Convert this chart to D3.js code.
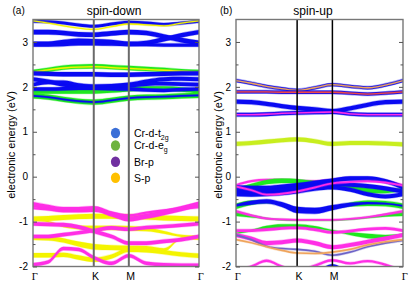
<!DOCTYPE html>
<html><head><meta charset="utf-8">
<script src="https://cdn.jsdelivr.net/npm/d3@7"></script>
<style>
body{margin:0;background:#fff}
text{font-family:Arial,"Liberation Sans",sans-serif;fill:#000}
</style>
</head><body>
<script>
// k-path sample points (Γ-K-M-Γ) and high-symmetry ticks
const kSamples = [0, 0.25, 0.5, 0.75, 1.0, 1.289, 1.577, 1.866, 2.155, 2.443, 2.732];
const kTickPos = [0, 1.0, 1.577, 2.732];
const kTickLabels = ["Γ", "K", "M", "Γ"];
const energyTicks = [-2, -1, 0, 1, 2, 3];
const energyMinor = [-1.5, -0.5, 0.5, 1.5, 2.5];

const legendNames = ["Cr-d-t", "Cr-d-e", "Br-p", "S-p"];
const legendSubs = ["2g", "g", "", ""];

// [orbital, energy at each k sample (eV), projection weight]
const spinDown = [
  ["t2g", [3.46,3.45,3.42,3.38,3.35,3.40,3.44,3.42,3.39,3.42,3.46], 0.35],
  ["Sp",  [3.47,3.42,3.36,3.31,3.28,3.34,3.40,3.38,3.36,3.42,3.47], 0.04],
  ["t2g", [3.22,3.22,3.20,3.17,3.16,3.19,3.22,3.20,3.12,3.04,2.98], 0.65],
  ["t2g", [2.96,2.96,3.00,3.03,3.02,3.00,2.96,2.98,3.06,3.15,3.22], 0.6],
  ["t2g", [2.93,2.93,2.94,2.96,2.96,2.95,2.94,2.94,2.93,2.93,2.93], 0.4],
  ["eg",  [2.33,2.38,2.43,2.45,2.46,2.44,2.42,2.40,2.38,2.35,2.33], 0.6],
  ["Sp",  [2.33,2.38,2.42,2.44,2.45,2.43,2.41,2.39,2.37,2.35,2.33], 0.04],
  ["t2g", [2.30,2.29,2.28,2.28,2.28,2.27,2.27,2.28,2.29,2.30,2.30], 0.6],
  ["eg",  [1.90,1.90,1.90,1.90,1.90,1.92,1.95,1.96,1.96,1.94,1.90], 0.65],
  ["t2g", [2.17,2.12,2.05,2.02,2.01,2.02,2.05,2.12,2.17,2.18,2.17], 0.55],
  ["t2g", [2.05,2.10,2.10,2.04,2.00,2.00,2.02,2.06,2.07,2.06,2.05], 0.5],
  ["t2g", [1.95,1.95,1.96,1.97,1.97,1.96,1.95,1.93,1.92,1.94,1.95], 0.45],
  ["eg",  [1.80,1.77,1.72,1.68,1.66,1.70,1.75,1.77,1.78,1.80,1.81], 0.75],
  ["t2g", [1.80,1.77,1.72,1.68,1.66,1.70,1.75,1.77,1.78,1.80,1.81], 0.12],

  ["Sp",  [-0.94,-0.93,-0.91,-0.89,-0.88,-0.88,-0.89,-0.90,-0.92,-0.93,-0.94], 0.7],
  ["Brp", [-0.62,-0.68,-0.73,-0.73,-0.71,-0.83,-0.94,-0.88,-0.80,-0.71,-0.61], 0.75],
  ["Brp", [-0.70,-0.73,-0.77,-0.77,-0.76,-0.80,-0.86,-0.80,-0.75,-0.71,-0.68], 0.2],
  ["Sp",  [-0.95,-1.00,-1.10,-1.13,-1.14,-1.14,-1.15,-1.17,-1.24,-1.32,-1.36],
          [0.05,0.05,0.2,0.5,0.6,0.6,0.7,0.5,0.3,0.2,0.5]],
  ["Sp",  [-1.36,-1.37,-1.42,-1.50,-1.56,-1.58,-1.59,-1.59,-1.63,-1.37,-1.36],
          [0.6,0.6,0.6,0.7,0.8,0.7,0.7,0.6,0.4,0.05,0.6]],
  ["Brp", [-1.05,-1.06,-1.07,-1.12,-1.22,-1.33,-1.48,-1.48,-1.44,-1.40,-1.33], 0.5],
  ["Brp", [-1.33,-1.33,-1.29,-1.25,-1.20,-1.14,-1.17,-1.13,-1.11,-1.08,-1.05], 0.45],
  ["Sp",  [-1.75,-1.75,-1.74,-1.80,-1.85,-1.78,-1.63,-1.64,-1.68,-1.73,-1.76], 0.6],
  ["Brp", [-1.96,-1.90,-1.60,-1.62,-1.80,-1.93,-1.76,-1.93,-1.96,-1.97,-1.97], 0.45]
];

const spinUp = [
  ["t2g",  [2.14,2.08,2.01,1.96,1.92,1.98,2.05,2.01,1.98,2.04,2.14], 0.4],
  ["mixO", [2.14,2.08,2.01,1.96,1.92,1.98,2.05,2.01,1.98,2.04,2.14], 0.04],
  ["t2g",  [1.89,1.89,1.89,1.88,1.88,1.88,1.88,1.86,1.84,1.86,1.89], 0.4],
  ["mixR", [1.89,1.89,1.89,1.88,1.88,1.88,1.88,1.86,1.84,1.86,1.89], 0.03],
  ["t2g",  [1.67,1.66,1.62,1.57,1.53,1.50,1.46,1.52,1.60,1.66,1.67], 0.6],
  ["t2g",  [1.38,1.38,1.39,1.41,1.42,1.43,1.44,1.40,1.38,1.38,1.38], 0.5],
  ["Brp",  [1.38,1.38,1.39,1.41,1.42,1.43,1.44,1.40,1.38,1.38,1.38], 0.04],
  ["SpEg", [0.73,0.75,0.78,0.81,0.83,0.79,0.73,0.75,0.75,0.74,0.72], 0.55],

  ["Brp", [-0.19,-0.10,-0.07,-0.07,-0.09,-0.10,-0.07,-0.03,-0.03,-0.09,-0.19], 0.2],
  ["eg",  [-0.28,-0.20,-0.12,-0.09,-0.10,-0.14,-0.18,-0.24,-0.31,-0.32,-0.28],
          [0.3,0.5,0.6,0.6,0.6,0.5,0.5,0.7,0.8,0.6,0.3]],
  ["t2g", [-0.24,-0.25,-0.25,-0.22,-0.19,-0.14,-0.09,-0.04,-0.04,-0.10,-0.24], 0.6],
  ["t2g", [-0.33,-0.34,-0.33,-0.30,-0.25,-0.20,-0.16,-0.18,-0.21,-0.26,-0.33], 0.55],
  ["t2g", [-0.39,-0.40,-0.39,-0.37,-0.33,-0.27,-0.24,-0.29,-0.39,-0.44,-0.39], 0.55],
  ["Brp", [-0.22,-0.30,-0.40,-0.38,-0.33,-0.24,-0.15,-0.12,-0.10,-0.13,-0.20], 0.15],

  ["eg",  [-0.82,-0.88,-0.93,-0.96,-0.97,-0.97,-0.97,-0.95,-0.91,-0.86,-0.82],
          [0.7,0.3,0.05,0.02,0.02,0.02,0.02,0.02,0.05,0.3,0.7]],
  ["eg",  [-0.66,-0.58,-0.56,-0.62,-0.74,-0.76,-0.70,-0.62,-0.59,-0.60,-0.66],
          [0.8,0.6,0.3,0.1,0.05,0.05,0.1,0.5,0.8,0.8,0.8]],
  ["t2g", [-0.64,-0.58,-0.55,-0.62,-0.74,-0.76,-0.69,-0.62,-0.59,-0.60,-0.65],
          [0.2,0.5,0.6,0.7,0.95,0.9,0.75,0.5,0.2,0.1,0.1]],
  ["Brp", [-0.77,-0.86,-0.93,-0.95,-0.96,-0.96,-0.96,-0.94,-0.90,-0.84,-0.77],
          [0.3,0.2,0.15,0.12,0.12,0.12,0.12,0.15,0.15,0.2,0.3]],
  ["eg",  [-1.26,-1.20,-1.13,-1.10,-1.10,-1.13,-1.20,-1.27,-1.32,-1.34,-1.28],
          [0.02,0.1,0.4,0.5,0.5,0.3,0.05,0.3,0.6,0.5,0.05]],
  ["Brp", [-1.20,-1.20,-1.18,-1.15,-1.14,-1.18,-1.24,-1.21,-1.17,-1.15,-1.20], 0.3],
  ["Brp", [-1.30,-1.38,-1.48,-1.46,-1.42,-1.48,-1.57,-1.52,-1.45,-1.38,-1.30], 0.55],
  ["mixP",[-1.30,-1.40,-1.55,-1.60,-1.62,-1.66,-1.75,-1.68,-1.56,-1.48,-1.42], 0.1],
  ["mixO",[-1.40,-1.47,-1.56,-1.64,-1.70,-1.71,-1.68,-1.62,-1.52,-1.45,-1.40], 0.1],
  ["t2g", [-2.30,-2.30,-2.30,-2.30,-2.30,-2.15,-1.98,-2.15,-2.30,-2.30,-2.30], 0.3],
  ["Brp", [-2.10,-2.00,-1.87,-2.00,-2.10,-1.98,-1.86,-1.93,-1.88,-1.96,-2.10], 0.25]
];

const width = 415, height = 290;
const bandColor = d3.scaleOrdinal()
  .domain(["t2g","eg","Brp","Sp","SpEg","mixO","mixR","mixP"])
  .range(["#0a0af2","#1ee81e","#ff2ee6","#f4f400","#c8ee1e","#f0a45c","#ee4848","#6e64c8"]);
const legendColor = d3.scaleOrdinal()
  .domain(legendNames)
  .range(["#3b6fd7","#6db33f","#7030a0","#ffc000"]);
const thick = d3.scaleLinear().domain([0, 1]).range([1.1, 6.5]);

const svg = d3.select("body").append("svg")
  .attr("width", width).attr("height", height);

const y = d3.scaleLinear().domain([-2, 3.5]).range([266.5, 19.5]);

const panels = [
  {id: "a", bands: spinDown, x0: 33, x1: 199, title: "spin-down", titleX: 114,
   tagX: 12.5, labelX: 14.5, line: "#6a6a6a", lineW: 2},
  {id: "b", bands: spinUp, x0: 236, x1: 403, title: "spin-up", titleX: 313,
   tagX: 220, labelX: 221.5, line: "#000", lineW: 1.5}
];

panels.forEach(p => {
  const x = d3.scaleLinear().domain([0, kTickPos[3]]).range([p.x0, p.x1]);
  const g = svg.append("g");

  g.append("clipPath").attr("id", "clip-" + p.id)
    .append("rect").attr("x", p.x0).attr("y", y(3.5))
    .attr("width", p.x1 - p.x0).attr("height", y(-2) - y(3.5));

  const bands = g.append("g").attr("clip-path", "url(#clip-" + p.id + ")");
  p.bands.forEach(b => {
    const [orb, en, w] = b;
    const wAt = i => Array.isArray(w) ? w[i] : w;
    const area = d3.area()
      .curve(d3.curveMonotoneX)
      .x((d, i) => x(kSamples[i]))
      .y0((d, i) => y(d) + thick(wAt(i)) / 2)
      .y1((d, i) => y(d) - thick(wAt(i)) / 2);
    bands.append("path")
      .attr("d", area(en))
      .attr("fill", bandColor(orb))
      .attr("stroke", bandColor(orb))
      .attr("stroke-opacity", 0.3)
      .attr("stroke-width", 1.2);
  });

  // high-symmetry lines
  g.selectAll(".kline")
    .data(kTickPos.slice(1, 3))
    .enter().append("line")
    .attr("x1", d => x(d)).attr("x2", d => x(d))
    .attr("y1", y(3.5)).attr("y2", y(-2))
    .attr("stroke", p.line).attr("stroke-width", p.lineW);

  // frame
  g.append("rect")
    .attr("x", p.x0).attr("y", y(3.5))
    .attr("width", p.x1 - p.x0).attr("height", y(-2) - y(3.5))
    .attr("fill", "none").attr("stroke", "#777").attr("stroke-width", 1.4);

  // energy axis, ticks pointing inward
  const yAxis = g.append("g").attr("transform", `translate(${p.x0},0)`)
    .call(d3.axisLeft(y).tickValues(energyTicks).tickSize(-4).tickPadding(5)
      .tickFormat(d => d === 0 ? "0" : d3.format("d")(d).replace("−", "-")));
  yAxis.select(".domain").remove();
  yAxis.selectAll("line").attr("stroke", "#555");
  yAxis.selectAll("text").attr("font-size", 10)
    .style("font-family", "Arial, 'Liberation Sans', sans-serif");

  g.append("g").attr("transform", `translate(${p.x0},0)`)
    .call(d3.axisLeft(y).tickValues(energyMinor).tickSize(-2.5).tickFormat(""))
    .call(s => s.select(".domain").remove())
    .selectAll("line").attr("stroke", "#555");

  g.append("g").attr("transform", `translate(${p.x1},0)`)
    .call(d3.axisRight(y).tickValues(energyTicks).tickSize(-4).tickFormat(""))
    .call(s => s.select(".domain").remove())
    .selectAll("line").attr("stroke", "#555");
  g.append("g").attr("transform", `translate(${p.x1},0)`)
    .call(d3.axisRight(y).tickValues(energyMinor).tickSize(-2.5).tickFormat(""))
    .call(s => s.select(".domain").remove())
    .selectAll("line").attr("stroke", "#555");

  // k labels
  g.selectAll(".klab")
    .data(kTickPos)
    .enter().append("text")
    .attr("x", d => x(d) + 1.8)
    .attr("y", 280)
    .attr("text-anchor", "middle")
    .attr("font-size", 10.5)
    .style("font-family", (d, i) => kTickLabels[i] === "Γ" ? "'Liberation Serif', 'DejaVu Serif', serif" : "Arial, 'Liberation Sans', sans-serif")
    .text((d, i) => kTickLabels[i]);

  g.append("text").attr("x", p.titleX).attr("y", 14.5)
    .attr("text-anchor", "middle").attr("font-size", 12).text(p.title);
  g.append("text").attr("x", p.tagX).attr("y", 14)
    .attr("font-size", 10).text("(" + p.id + ")");
  g.append("text")
    .attr("transform", `translate(${p.labelX},145) rotate(-90)`)
    .attr("text-anchor", "middle").attr("font-size", 11)
    .text("electronic energy (eV)");
});

// legend
const legendY = [133, 145.5, 161.8, 177.8];
const leg = svg.append("g");
legendNames.forEach((name, i) => {
  leg.append("ellipse").attr("cx", 115.5).attr("cy", legendY[i])
    .attr("rx", 4.6).attr("ry", 5.3).attr("fill", legendColor(name));
  const t = leg.append("text").attr("x", 134).attr("y", legendY[i] + 3.8)
    .attr("font-size", 10.5).text(name);
  if (legendSubs[i]) {
    t.append("tspan").attr("dy", 3).attr("font-size", 7).text(legendSubs[i]);
  }
});
</script>
</body></html>
